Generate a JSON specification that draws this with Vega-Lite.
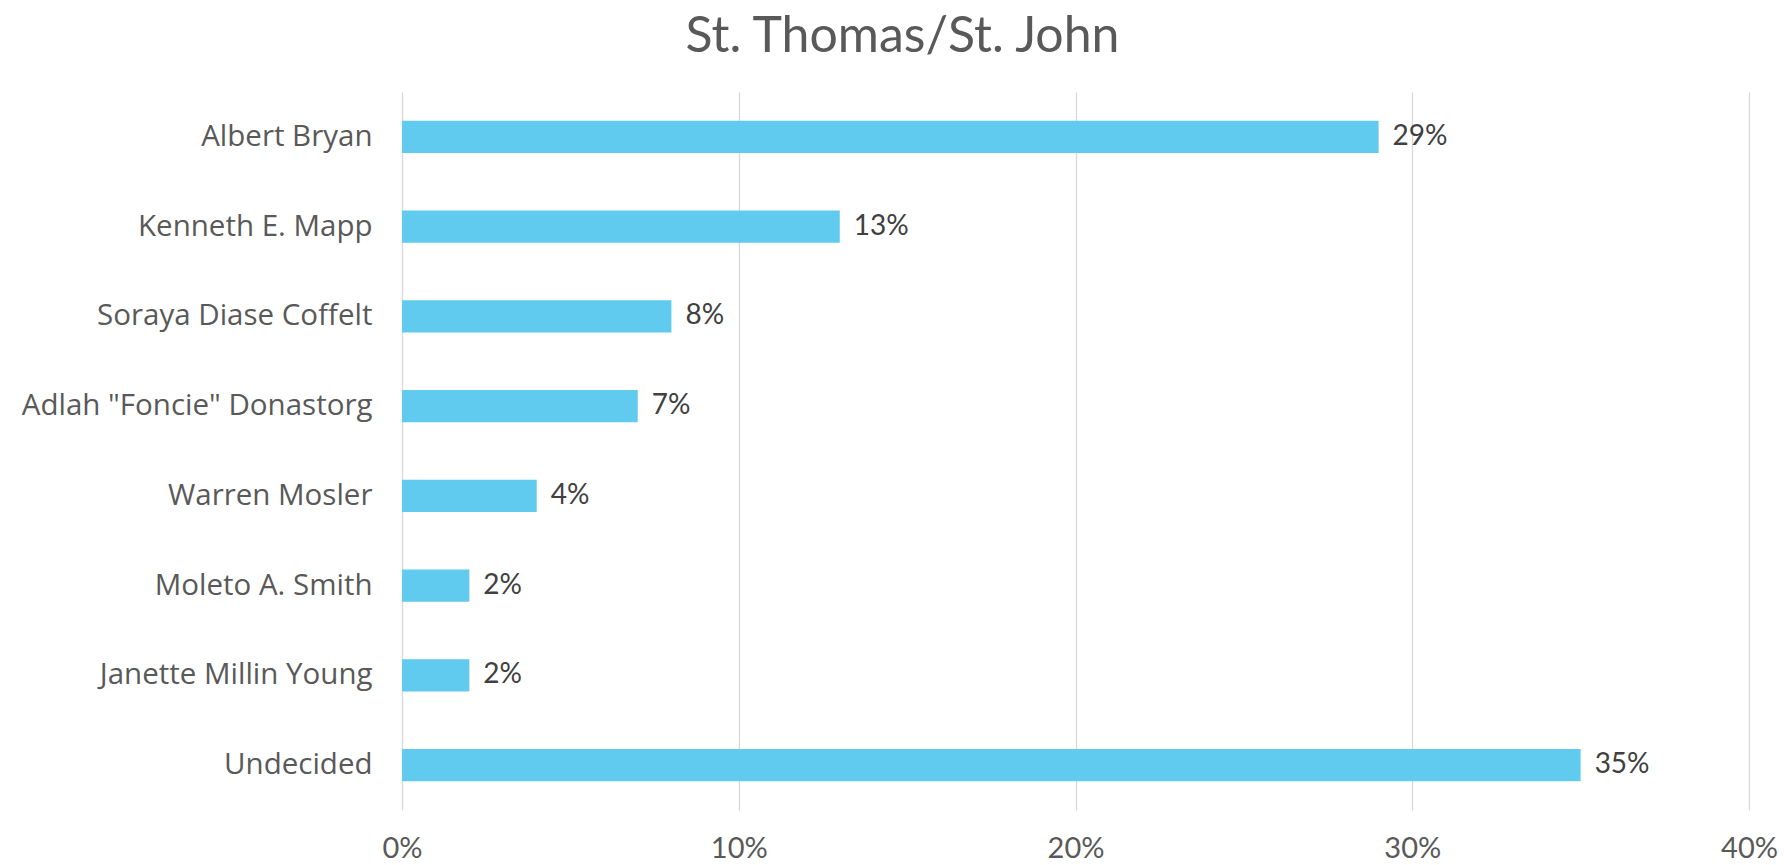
{
  "$schema": "https://vega.github.io/schema/vega-lite/v6.json",
  "width": 1347,
  "height": 718,
  "autosize": {"type": "none"},
  "padding": {"left": 402, "top": 92, "right": 35, "bottom": 55},
  "background": "white",
  "config": {"view": {"stroke": null}, "font": "Lato"},
  "title": {
    "text": "St. Thomas/St. John",
    "font": "Lato",
    "fontSize": 50,
    "fontWeight": "normal",
    "color": "#595959",
    "anchor": "middle",
    "dx": -173,
    "offset": 30
  },
  "data": {
    "values": [
      {"candidate": "Albert Bryan", "share": 0.29},
      {"candidate": "Kenneth E. Mapp", "share": 0.13},
      {"candidate": "Soraya Diase Coffelt", "share": 0.08},
      {"candidate": "Adlah \"Foncie\" Donastorg", "share": 0.07},
      {"candidate": "Warren Mosler", "share": 0.04},
      {"candidate": "Moleto A. Smith", "share": 0.02},
      {"candidate": "Janette Millin Young", "share": 0.02},
      {"candidate": "Undecided\u00a0", "share": 0.35}
    ]
  },
  "encoding": {
    "y": {
      "field": "candidate",
      "type": "nominal",
      "sort": null,
      "scale": {"paddingInner": 0.64, "paddingOuter": 0.32},
      "axis": {
        "title": null,
        "domain": false,
        "ticks": false,
        "labelPadding": 30,
        "labelLimit": 0,
        "labelFontSize": 29.5,
        "labelColor": "#595959",
        "labelFont": "Open Sans"
      }
    },
    "x": {
      "field": "share",
      "type": "quantitative",
      "scale": {"domain": [0, 0.4], "nice": false},
      "axis": {
        "title": null,
        "format": ".0%",
        "values": [0, 0.1, 0.2, 0.3, 0.4],
        "domain": false,
        "ticks": false,
        "grid": true,
        "gridColor": "#D9D9D9",
        "gridWidth": 1.3,
        "labelFlush": false,
        "labelPadding": 24,
        "labelFontSize": 29,
        "labelColor": "#595959",
        "labelFont": "Lato"
      }
    }
  },
  "layer": [
    {"mark": {"type": "bar", "color": "#61CBEF"}},
    {
      "mark": {"type": "text", "align": "left", "baseline": "middle", "dx": 14, "fontSize": 28, "color": "#404040", "font": "Lato"},
      "encoding": {"text": {"field": "share", "type": "quantitative", "format": ".0%"}}
    }
  ]
}
